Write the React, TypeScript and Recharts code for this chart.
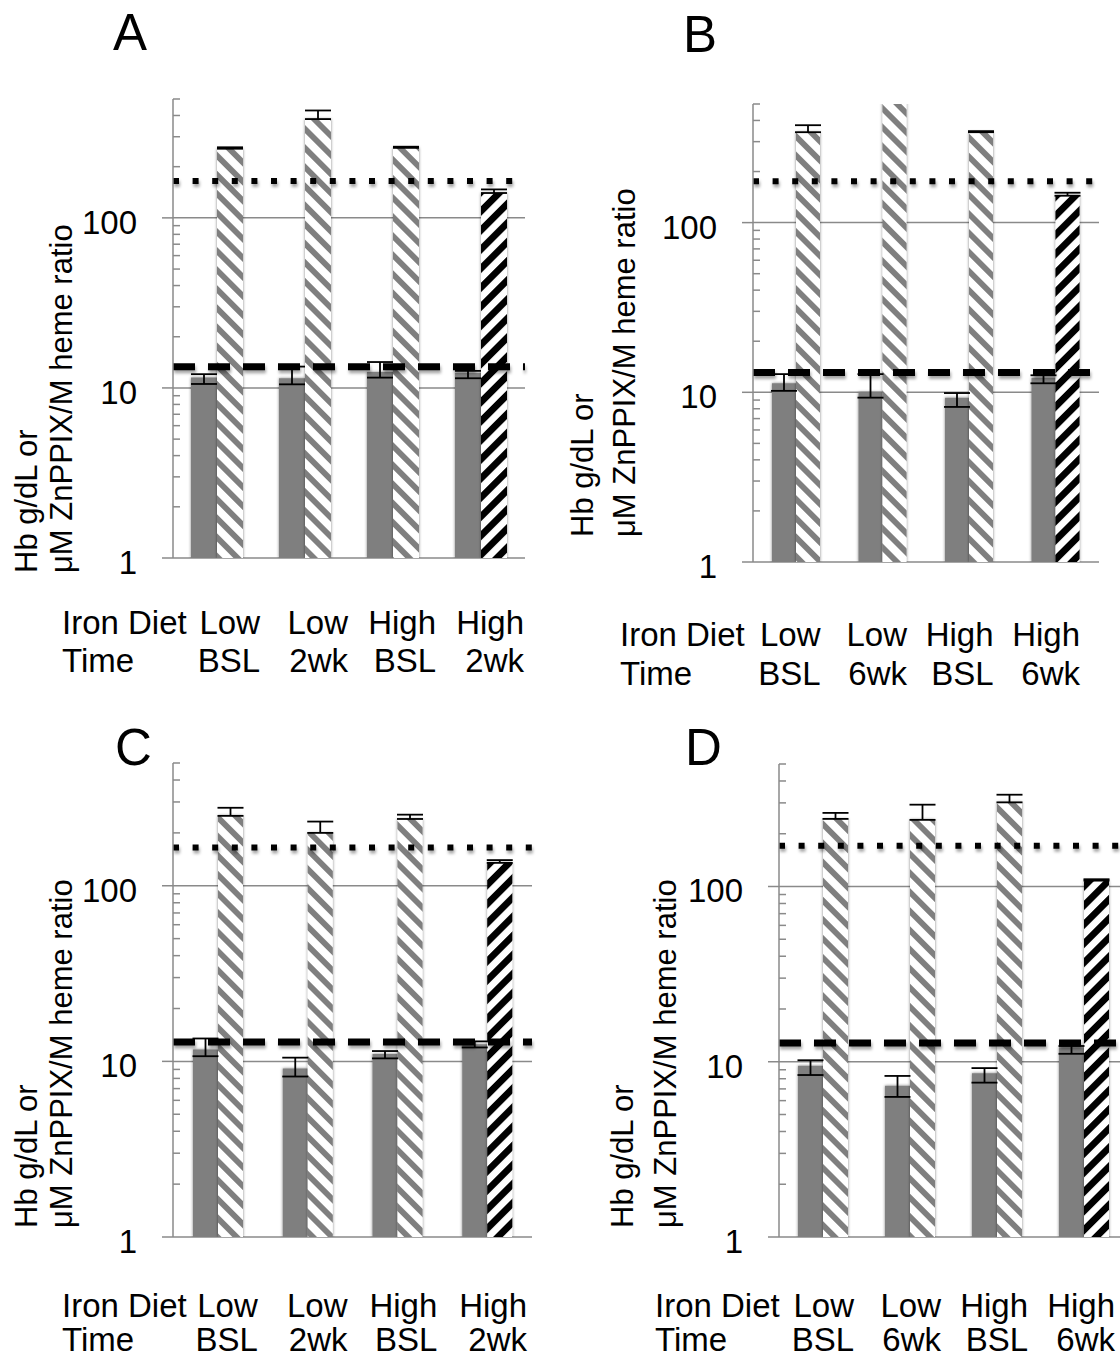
import React from 'react';
import { BarChart, Bar, XAxis, YAxis, CartesianGrid, ReferenceLine, ErrorBar, Cell } from 'recharts';

const FONT = '"Liberation Sans", Arial, Helvetica, sans-serif';
const GRID = '#8a8a8a';
const GRAY = '#7f7f7f';

// categories
const DIET = ['Low', 'Low', 'High', 'High'];
const TIME_2WK = ['BSL', '2wk', 'BSL', '2wk'];
const TIME_6WK = ['BSL', '6wk', 'BSL', '6wk'];

// log axis
const Y_DOMAIN = [1, 500];
const Y_TICKS = [1, 10, 100];
const Y_MINOR_TICKS = [2, 3, 4, 5, 6, 7, 8, 9, 20, 30, 40, 50, 60, 70, 80, 90, 200, 300, 400, 500];

// Hb g/dL (solid gray) and ZnPPIX/M heme ratio (hatched), errors as [minus, plus]
const HB_A = [11.5, 11.4, 12.4, 12.3];
const HB_A_ERR = [[0.95, 0.55], [0.9, 1.95], [0.9, 1.8], [0.9, 0.3]];
const ZN_A = [255, 381, 258, 140];
const ZN_A_ERR = [[0, 5], [0, 47], [0, 4], [0, 7]];

const HB_B = [11.3, 10.0, 9.3, 12.2];
const HB_B_ERR = [[1.1, 1.5], [0.7, 2.8], [1.1, 0.6], [0.9, 0.4]];
const ZN_B = [341, 520, 341, 144];
const ZN_B_ERR = [[0, 34], null, [0, 5], [0, 6]];

const HB_C = [11.7, 9.1, 11.0, 12.5];
const HB_C_ERR = [[1.0, 1.8], [0.9, 1.4], [0.6, 0.45], [0.5, 0.5]];
const ZN_C = [250, 200, 240, 135];
const ZN_C_ERR = [[0, 28], [0, 32], [0, 14], [0, 5]];

const HB_D = [9.5, 7.3, 8.6, 12.1];
const HB_D_ERR = [[1.1, 0.7], [1.0, 1.0], [1.0, 0.6], [1.0, 0.2]];
const ZN_D = [243, 240, 302, 108];
const ZN_D_ERR = [[0, 20], [0, 53], [0, 32], [0, 2]];

// cutoff lines per panel A, B, C, D
const ZN_CUTOFF = [165, 175, 165, 171];
const HB_CUTOFF = [13.3, 13.1, 12.9, 12.8];

const Y_LABEL_1 = 'Hb g/dL or';
const Y_LABEL_2 = 'μM ZnPPIX/M heme ratio';

type Row = {
  cat: string;
  diet: string;
  time: string;
  hb: number;
  hbErr: number[];
  zn: number;
  znErr: number[] | null;
};

const buildRows = (time: string[], hb: number[], hbErr: number[][], zn: number[], znErr: (number[] | null)[]): Row[] =>
  DIET.map((diet, i) => ({
    cat: `${diet} ${time[i]}`,
    diet,
    time: time[i],
    hb: hb[i],
    hbErr: hbErr[i],
    zn: zn[i],
    znErr: znErr[i],
  }));

// layout of each panel on the page
const LAYOUT = [
  { id: 'A', left: 0, top: 0, width: 560, height: 700, margin: { top: 99, right: 35, bottom: 0, left: 113 }, xh: 142, bar: 26, catShift: -1, rows: [76, 114], headX: 62, letter: [113, 50], yl: [37, 72, 573] },
  { id: 'B', left: 560, top: 0, width: 560, height: 710, margin: { top: 104, right: 21, bottom: 0, left: 133 }, xh: 148, bar: 24, catShift: -19, rows: [84, 123], headX: 60, letter: [683, 52], yl: [593, 635, 537] },
  { id: 'C', left: 0, top: 680, width: 560, height: 690, margin: { top: 83, right: 28, bottom: 0, left: 113 }, xh: 133, bar: 25, catShift: -5, rows: [80, 114], headX: 62, letter: [115, 765], yl: [37, 72, 1228] },
  { id: 'D', left: 560, top: 680, width: 580, height: 690, margin: { top: 84, right: 13, bottom: 0, left: 159 }, xh: 133, bar: 25, catShift: -12, rows: [80, 114], headX: 95, letter: [685, 765], yl: [633, 676, 1228] },
];

const PANEL_ROWS: Row[][] = [
  buildRows(TIME_2WK, HB_A, HB_A_ERR, ZN_A, ZN_A_ERR),
  buildRows(TIME_6WK, HB_B, HB_B_ERR, ZN_B, ZN_B_ERR),
  buildRows(TIME_2WK, HB_C, HB_C_ERR, ZN_C, ZN_C_ERR),
  buildRows(TIME_6WK, HB_D, HB_D_ERR, ZN_D, ZN_D_ERR),
];

const Y_AXIS_W = 60;

function Panel({ idx }: { idx: number }) {
  const L = LAYOUT[idx];
  const rows = PANEL_ROWS[idx];
  const id = L.id;
  const plotW = L.width - L.margin.left - L.margin.right - Y_AXIS_W;
  const half = plotW / rows.length / 2;

  const catTick = (p: any) => {
    const { x, y, index } = p;
    const r = rows[index];
    if (!r) return <g />;
    const tx = x + half + L.catShift;
    return (
      <g fontFamily={FONT} fontSize={33} fill="#000">
        {index === 0 && (
          <>
            <text x={L.headX} y={y + L.rows[0]}>Iron Diet</text>
            <text x={L.headX} y={y + L.rows[1]}>Time</text>
          </>
        )}
        <text x={tx} y={y + L.rows[0]} textAnchor="end">{r.diet}</text>
        <text x={tx} y={y + L.rows[1]} textAnchor="end">{r.time}</text>
      </g>
    );
  };

  const yTick = (p: any) => (
    <text x={p.x} y={p.y + 16} textAnchor="end" fontSize={33} fontFamily={FONT} fill="#000">
      {p.payload.value}
    </text>
  );

  const isLate = (r: Row) => r.diet === 'High' && r.time !== 'BSL';

  return (
    <div style={{ position: 'absolute', left: L.left, top: L.top }}>
      <BarChart width={L.width} height={L.height} data={rows} margin={L.margin} barGap={0} barCategoryGap={0}>
        <defs>
          <pattern id={`hatch-g-${id}`} patternUnits="userSpaceOnUse" width="13.5" height="13.5" patternTransform="rotate(-45)">
            <rect width="13.5" height="13.5" fill="#fff" />
            <rect width="5.8" height="13.5" fill={GRAY} />
          </pattern>
          <pattern id={`hatch-k-${id}`} patternUnits="userSpaceOnUse" width="13.5" height="13.5" patternTransform="rotate(45)">
            <rect width="13.5" height="13.5" fill="#fff" />
            <rect width="6.8" height="13.5" fill="#000" />
          </pattern>
          <filter id={`shadow-${id}`} x="-40%" y="-5%" width="180%" height="110%">
            <feDropShadow dx="0" dy="0" stdDeviation="1.4" floodColor="#000" floodOpacity="0.5" />
          </filter>
          <filter id={`lshadow-${id}`} filterUnits="userSpaceOnUse" x="0" y="0" width={L.width} height={L.height}>
            <feDropShadow dx="1" dy="3" stdDeviation="1.8" floodColor="#000" floodOpacity="0.35" />
          </filter>
        </defs>
        <CartesianGrid yAxisId="main" vertical={false} syncWithTicks stroke={GRID} strokeWidth={1.5} />
        <XAxis
          dataKey="cat"
          height={L.xh}
          axisLine={false}
          tickLine={false}
          tickSize={0}
          tickMargin={0}
          interval={0}
          tick={catTick}
        />
        <YAxis
          yAxisId="main"
          type="number"
          scale="log"
          domain={Y_DOMAIN}
          allowDataOverflow
          ticks={Y_TICKS}
          interval={0}
          width={Y_AXIS_W}
          tickSize={11}
          tickMargin={25}
          axisLine={{ stroke: GRID, strokeWidth: 1.5 }}
          tickLine={{ stroke: GRID, strokeWidth: 1.5 }}
          tick={yTick}
        />
        <YAxis
          yAxisId="minor"
          type="number"
          scale="log"
          domain={Y_DOMAIN}
          allowDataOverflow
          mirror
          ticks={Y_MINOR_TICKS}
          interval={0}
          tickSize={7}
          axisLine={false}
          tickLine={{ stroke: GRID, strokeWidth: 1.5 }}
          tick={() => <g />}
        />
        <Bar yAxisId="main" dataKey="hb" barSize={L.bar} isAnimationActive={false}>
          {rows.map((r) => (
            <Cell key={r.cat} fill={GRAY} filter={`url(#shadow-${id})`} />
          ))}
          <ErrorBar dataKey="hbErr" width={13} stroke="#000" strokeWidth={1.8} isAnimationActive={false} />
        </Bar>
        <Bar yAxisId="main" dataKey="zn" barSize={L.bar} isAnimationActive={false}>
          {rows.map((r) => (
            <Cell key={r.cat} fill={isLate(r) ? `url(#hatch-k-${id})` : `url(#hatch-g-${id})`} filter={`url(#shadow-${id})`} />
          ))}
          <ErrorBar dataKey="znErr" width={13} stroke="#000" strokeWidth={1.8} isAnimationActive={false} />
        </Bar>
        <ReferenceLine yAxisId="main" y={ZN_CUTOFF[idx]} stroke="#000" strokeWidth={6} strokeDasharray="6 13.6" filter={`url(#lshadow-${id})`} />
        <ReferenceLine yAxisId="main" y={HB_CUTOFF[idx]} stroke="#000" strokeWidth={7} strokeDasharray="22 13" filter={`url(#lshadow-${id})`} />
      </BarChart>
    </div>
  );
}

export default function App() {
  return (
    <div style={{ position: 'absolute', left: 0, top: 0, width: 1120, height: 1359, overflow: 'hidden', background: '#fff', fontFamily: FONT }}>
      {LAYOUT.map((_, i) => (
        <Panel key={i} idx={i} />
      ))}
      <svg width={1120} height={1359} style={{ position: 'absolute', left: 0, top: 0, pointerEvents: 'none' }}>
        {LAYOUT.map((L) => (
          <g key={L.id} fontFamily={FONT} fill="#000">
            <text x={L.letter[0]} y={L.letter[1]} fontSize={51}>{L.id}</text>
            <text x={L.yl[0]} y={L.yl[2]} fontSize={31} transform={`rotate(-90 ${L.yl[0]} ${L.yl[2]})`}>{Y_LABEL_1}</text>
            <text x={L.yl[1]} y={L.yl[2]} fontSize={31} transform={`rotate(-90 ${L.yl[1]} ${L.yl[2]})`}>{Y_LABEL_2}</text>
          </g>
        ))}
      </svg>
    </div>
  );
}
